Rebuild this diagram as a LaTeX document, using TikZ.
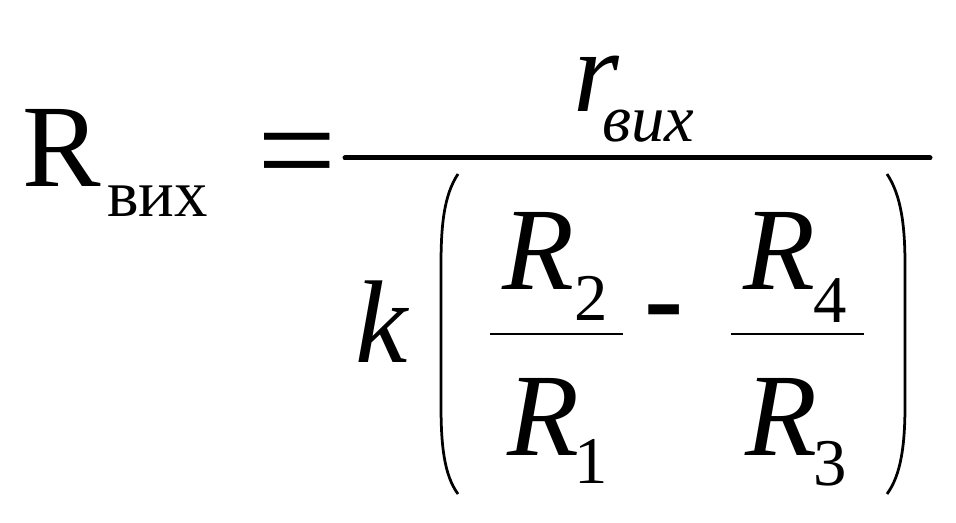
\documentclass[tikz,border=0pt]{standalone}
\usepackage{fontspec}
\setmainfont{Liberation Serif}
\usepackage{tikz}

\begin{document}
\begin{tikzpicture}[x=0.02cm,y=-0.02cm]
  \tikzset{
big/.style={inner sep=0, anchor=base west,
    font=\fontsize{67}{70}\selectfont},
sub/.style={inner sep=0, anchor=base west,
    font=\fontsize{38}{40}\selectfont},
bar/.style={line width=0.05cm},
paren/.style={line width=0.055cm},
}
  \useasboundingbox (0,0) rectangle (956,523);

  % Left side
  \node [big] (rout) at (22,187) {R};
  \node [sub] (routsub) at (107,217) {вих};
  \node [inner sep=0, anchor=base, font=\fontsize{80}{84}\selectfont] (eq) at (297,198) {=};

  % Numerator
  \node [big] (rnum) at (573,112) {\itshape r};
  \node [sub] (rnumsub) at (602,142) {\itshape вих};
  \draw [line width=0.1cm, line cap=round] (345,158) coordinate (mainl) -- (930,158) coordinate (mainr);

  % Denominator
  \node [big] (k) at (355,362) {\itshape k};
  \node [big] (rtwo) at (502,290) {\itshape R};
  \node [sub] (two) at (574,320) {2};
  \node [big] (rone) at (507,455) {\itshape R};
  \node [sub] (one) at (574,483) {1};
  \draw [bar] (490,334) -- (623,334);
  \node [big, anchor=center] (minus) at (664,321) {\bfseries -};
  \node [big] (rfour) at (743,290) {\itshape R};
  \node [sub] (four) at (813,322) {4};
  \node [big] (rthree) at (745,455) {\itshape R};
  \node [sub] (three) at (813,485) {3};
  \draw [bar] (731,334) -- (864,334);

  % Brackets
  \draw [paren] (458,174) .. controls (444,195) and (441,225) .. (441,265)
    -- (441,405) .. controls (441,445) and (444,475) .. (458,494);
  \draw [paren] (887,174) .. controls (901,195) and (905,225) .. (905,265)
    -- (905,405) .. controls (905,445) and (901,475) .. (887,494);
\end{tikzpicture}
\end{document}
